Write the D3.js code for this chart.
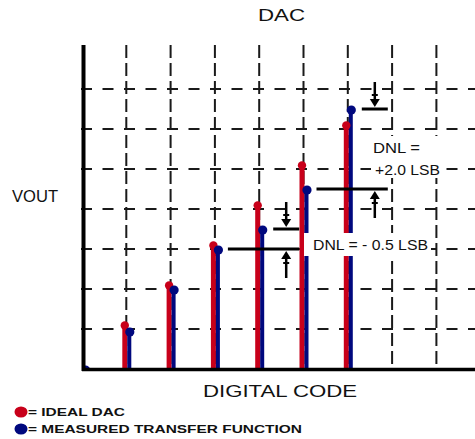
<!DOCTYPE html>
<html>
<head>
<meta charset="utf-8">
<script src="https://cdn.jsdelivr.net/npm/d3@7"></script>
<style>
  html, body { margin: 0; padding: 0; background: #fff; }
  svg { display: block; }
  text { font-family: "Liberation Sans", Arial, sans-serif; fill: #111; }
</style>
</head>
<body>
<svg id="chart" width="475" height="439"></svg>
<script>
// ---- data ----
const codes = [0, 1, 2, 3, 4, 5, 6];
const idealValues = [0, 1, 2, 3, 4, 5, 6];
const measuredValues = [0, 0.95, 2, 3, 3.5, 4.5, 6.5];
const xGridCodes = [1, 2, 3, 4, 5, 6, 7, 8];
const yGridLevels = [1, 2, 3, 4, 5, 6, 7];
const dnlCodes = [4, 6];            // codes where the DNL step is marked
const dnlLabels = [["DNL = - 0.5 LSB"], ["DNL =", "+2.0 LSB"]];
const titleText = "DAC";
const xTitle = "DIGITAL CODE";
const yTitle = "VOUT";
const legendLabels = ["= IDEAL DAC", "= MEASURED TRANSFER FUNCTION"];

const RED = "#c8001a", BLUE = "#00087e";

const svg = d3.select("#chart");
const x = d3.scaleLinear().domain([0, 9]).range([82, 82 + 44.3 * 9]);
const y = d3.scaleLinear().domain([0, 8]).range([369, 49]);

svg.append("defs").append("clipPath").attr("id", "plot")
  .append("rect").attr("x", 85).attr("y", 0).attr("width", 400).attr("height", 368);

// ---- grid ----
const grid = svg.append("g").attr("stroke", "#1a1a1a").attr("stroke-width", 2);
grid.selectAll("line.h").data(yGridLevels).join("line")
  .attr("x1", 81).attr("x2", 475)
  .attr("y1", d => y(d)).attr("y2", d => y(d))
  .attr("stroke-dasharray", "11,10.5");
grid.selectAll("line.v").data(xGridCodes).join("line")
  .attr("x1", d => x(d)).attr("x2", d => x(d))
  .attr("y1", 45).attr("y2", 369)
  .attr("stroke-dasharray", "13,5");

// ---- bars ----
const bars = svg.append("g").attr("clip-path", "url(#plot)");
bars.selectAll("line.ideal").data(codes).join("line")
  .attr("x1", d => x(d) - 1.5).attr("x2", d => x(d) - 1.5)
  .attr("y1", y(0)).attr("y2", (d, i) => y(idealValues[i]) - 3)
  .attr("stroke", RED).attr("stroke-width", 5);
bars.selectAll("line.meas").data(codes).join("line")
  .attr("x1", d => x(d) + 3).attr("x2", d => x(d) + 3)
  .attr("y1", y(0)).attr("y2", (d, i) => y(measuredValues[i]))
  .attr("stroke", BLUE).attr("stroke-width", 4);
bars.selectAll("circle.ideal").data(codes).join("circle")
  .attr("cx", d => x(d) - 1.5).attr("cy", (d, i) => y(idealValues[i]) - 3.5)
  .attr("r", 4.2).attr("fill", RED);
bars.selectAll("circle.meas").data(codes).join("circle")
  .attr("cx", d => x(d) + 3.5).attr("cy", (d, i) => y(measuredValues[i]) + 1)
  .attr("r", 4.6).attr("fill", BLUE);

// ---- axes ----
svg.append("line").attr("x1", 83.5).attr("x2", 83.5).attr("y1", 45).attr("y2", 371)
  .attr("stroke", "#000").attr("stroke-width", 4);
svg.append("line").attr("x1", 82).attr("x2", 475).attr("y1", 369.5).attr("y2", 369.5)
  .attr("stroke", "#000").attr("stroke-width", 3.5);

// ---- DNL annotations ----
const ann = svg.append("g");
function arrow(g, cx, tail, tip) {
  const dir = tip > tail ? 1 : -1;
  g.append("line").attr("x1", cx).attr("x2", cx).attr("y1", tail).attr("y2", tip - dir * 6)
    .attr("stroke", "#000").attr("stroke-width", 2.5);
  g.append("path")
    .attr("d", `M${cx - 5},${tip - dir * 8} L${cx + 5},${tip - dir * 8} L${cx},${tip} Z`)
    .attr("fill", "#000");
  g.append("line").attr("x1", cx - 3).attr("x2", cx + 3)
    .attr("y1", tip - dir * 12).attr("y2", tip - dir * 12)
    .attr("stroke", "#000").attr("stroke-width", 2);
}
dnlCodes.forEach((c, i) => {
  const lo = measuredValues[c - 1], hi = measuredValues[c];
  const ax = x(c) + 27;
  ann.append("line").attr("x1", x(c - 1) + 13).attr("x2", x(c) + 40)
    .attr("y1", y(lo)).attr("y2", y(lo)).attr("stroke", "#000").attr("stroke-width", 3);
  ann.append("line").attr("x1", x(c) + 14).attr("x2", x(c) + 40)
    .attr("y1", y(hi)).attr("y2", y(hi)).attr("stroke", "#000").attr("stroke-width", 3);
  arrow(ann, ax, y(hi) - 27, y(hi) - 2);
  arrow(ann, ax, y(lo) + 29, y(lo) + 2);
});

// label boxes + text
const lab = svg.append("g");
lab.append("rect").attr("x", 304).attr("y", 233).attr("width", 127).attr("height", 23).attr("fill", "#fff");
lab.append("text").attr("x", 313).attr("y", 250).attr("font-size", 15)
  .attr("textLength", 115).attr("lengthAdjust", "spacingAndGlyphs").text(dnlLabels[0][0]);
lab.append("rect").attr("x", 371).attr("y", 136).attr("width", 75).attr("height", 42).attr("fill", "#fff");
lab.append("text").attr("x", 373).attr("y", 153).attr("font-size", 15)
  .attr("textLength", 47).attr("lengthAdjust", "spacingAndGlyphs").text(dnlLabels[1][0]);
lab.append("text").attr("x", 375).attr("y", 175).attr("font-size", 15)
  .attr("textLength", 65).attr("lengthAdjust", "spacingAndGlyphs").text(dnlLabels[1][1]);

// ---- titles ----
svg.append("text").attr("x", 258).attr("y", 21).attr("font-size", 16)
  .attr("textLength", 47).attr("lengthAdjust", "spacingAndGlyphs").text(titleText);
svg.append("text").attr("x", 12).attr("y", 202).attr("font-size", 16)
  .attr("textLength", 46).attr("lengthAdjust", "spacingAndGlyphs").text(yTitle);
svg.append("text").attr("x", 203).attr("y", 397).attr("font-size", 16)
  .attr("textLength", 154).attr("lengthAdjust", "spacingAndGlyphs").text(xTitle);

// ---- legend ----
const legend = svg.append("g");
[RED, BLUE].forEach((col, i) => {
  legend.append("ellipse").attr("cx", 21).attr("cy", 412 + i * 17).attr("rx", 6.5).attr("ry", 5.5).attr("fill", col);
});
legend.append("text").attr("x", 28).attr("y", 415.5).attr("font-size", 11).attr("font-weight", "bold")
  .attr("textLength", 97).attr("lengthAdjust", "spacingAndGlyphs").text(legendLabels[0]);
legend.append("text").attr("x", 28).attr("y", 432.5).attr("font-size", 11).attr("font-weight", "bold")
  .attr("textLength", 274).attr("lengthAdjust", "spacingAndGlyphs").text(legendLabels[1]);
</script>
</body>
</html>
